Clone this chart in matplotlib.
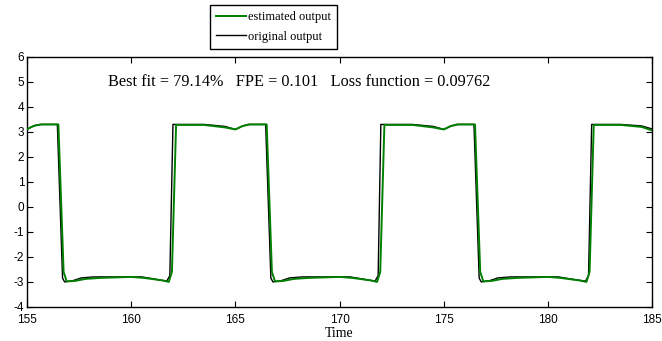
import matplotlib.pyplot as plt

plt.rcParams['axes.unicode_minus'] = False

# measured output (breakpoints of the recorded signal)
t_orig = [155.0, 155.3, 155.6, 156.45, 156.7, 156.8, 157.2, 157.6, 158.2, 160.5, 161.0, 161.7, 161.85, 162.0,
          163.5, 164.5, 165.0, 165.3, 165.6, 166.45, 166.7, 166.8, 167.2, 167.6, 168.2, 170.5, 171.0, 171.7,
          171.85, 171.98, 173.5, 174.5, 175.0, 175.3, 175.6, 176.45, 176.7, 176.8, 177.2, 177.6, 178.2, 180.5,
          181.0, 181.8, 181.95, 182.1, 183.5, 184.5, 185.0]
y_orig = [3.10, 3.24, 3.30, 3.30, -2.85, -3.00, -2.95, -2.84, -2.80, -2.80, -2.87, -2.97, -2.75, 3.30,
          3.30, 3.22, 3.10, 3.22, 3.30, 3.30, -2.85, -3.00, -2.95, -2.84, -2.80, -2.80, -2.87, -2.97,
          -2.75, 3.30, 3.30, 3.22, 3.10, 3.22, 3.30, 3.30, -2.85, -3.00, -2.95, -2.84, -2.80, -2.80,
          -2.87, -2.97, -2.75, 3.30, 3.30, 3.24, 3.12]

# model-estimated output
t_est = [155.0, 155.35, 155.7, 156.5, 156.75, 156.9, 157.3, 157.8, 158.5, 160.0, 160.6, 161.5, 161.8, 161.95,
         162.15, 163.5, 164.5, 165.0, 165.35, 165.7, 166.5, 166.75, 166.9, 167.3, 167.8, 168.5, 170.0, 170.6,
         171.5, 171.8, 171.95, 172.15, 173.5, 174.5, 175.0, 175.35, 175.7, 176.5, 176.75, 176.9, 177.3,
         177.8, 178.5, 180.0, 180.6, 181.5, 181.85, 182.0, 182.2, 183.5, 184.5, 185.0]
y_est = [3.12, 3.25, 3.30, 3.30, -2.60, -2.98, -2.96, -2.88, -2.84, -2.80, -2.84, -2.94, -3.00, -2.60,
         3.28, 3.28, 3.18, 3.10, 3.24, 3.30, 3.30, -2.60, -2.98, -2.96, -2.88, -2.84, -2.80, -2.84,
         -2.94, -3.00, -2.60, 3.28, 3.28, 3.18, 3.10, 3.24, 3.30, 3.30, -2.60, -2.98, -2.96,
         -2.88, -2.84, -2.80, -2.84, -2.94, -3.00, -2.60, 3.28, 3.28, 3.20, 3.06]

fit_text = 'Best fit = 79.14%   FPE = 0.101   Loss function = 0.09762'

fig = plt.figure(figsize=(6.62, 3.41), dpi=100)
ax = fig.add_axes([0.041, 0.1, 0.944, 0.733])

l_orig, = ax.plot(t_orig, y_orig, color='black', lw=1.0, zorder=2)
l_est, = ax.plot(t_est, y_est, color='#008000', lw=1.4, zorder=3)

ax.set_xlim(155, 185)
ax.set_ylim(-4, 6)
ax.set_xticks(range(155, 186, 5))
ax.set_yticks(range(-4, 7))
ax.tick_params(direction='in', top=True, right=True, length=4, width=0.8,
               labelsize=8.5)
ax.tick_params(axis='x', pad=5)
ax.tick_params(axis='y', pad=2)
for lab in ax.get_xticklabels() + ax.get_yticklabels():
    lab.set_family('Liberation Sans')
for s in ax.spines.values():
    s.set_linewidth(1.0)

ax.set_xlabel('Time', family='Liberation Serif', fontsize=10, labelpad=1)
ax.text(158.9, 5.0, fit_text, family='Liberation Serif', fontsize=11.7, va='center')

leg = fig.legend([l_est, l_orig], ['estimated output', 'original output'],
                 loc='upper left', bbox_to_anchor=(0.317, 0.985), borderaxespad=0,
                 prop={'family': 'Liberation Serif', 'size': 9},
                 handlelength=2.4, handletextpad=0.15, borderpad=0.5,
                 labelspacing=0.6, fancybox=False, framealpha=1)
leg.get_frame().set_edgecolor('black')
leg.get_frame().set_linewidth(1.0)

fig.savefig('out.png', dpi=100)
